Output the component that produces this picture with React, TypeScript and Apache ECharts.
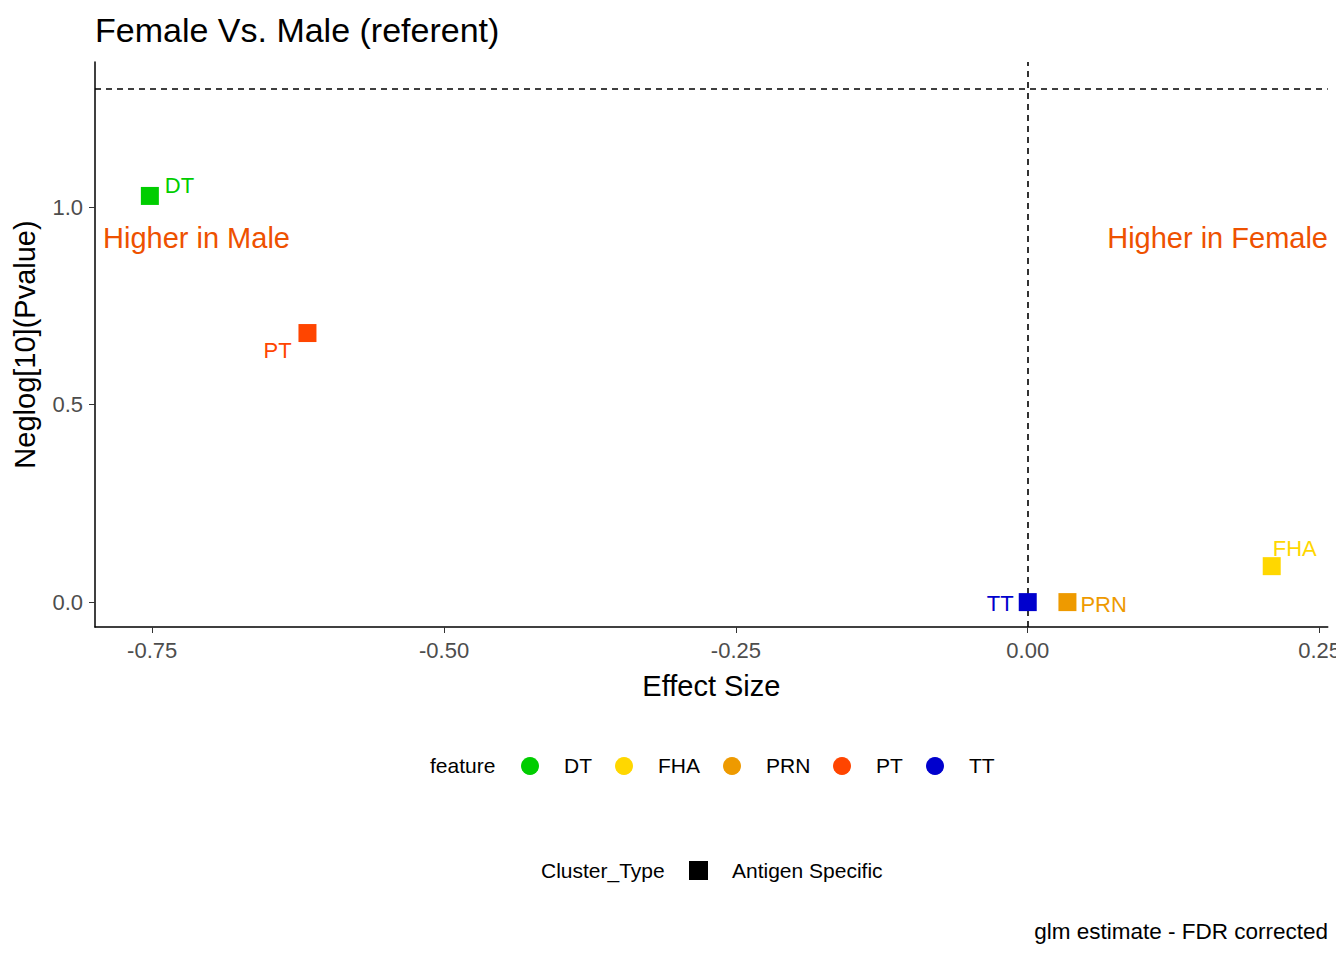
import React, { useEffect, useRef } from 'react';
import * as echarts from 'echarts';

const features = ['DT', 'FHA', 'PRN', 'PT', 'TT'];
const featureColors = ['#00CD00', '#FFD700', '#EE9A00', '#FF4500', '#0000CD'];
const effectSize = [-0.752, 0.209, 0.034, -0.617, 0.0];
const negLogP = [1.028, 0.091, 0.0, 0.681, 0.0];
const labelPos: any[] = [[24, -12], [10, -20], [22, 0], [-35, 15], [-32, -1]];
const xTicks = [-0.75, -0.5, -0.25, 0, 0.25];
const legendX = [530, 624, 732, 842, 935];

const FONT = 'Liberation Sans, Arial, sans-serif';

const App: React.FC = () => {
  const chartRef = useRef<HTMLDivElement>(null);

  useEffect(() => {
    if (!chartRef.current) return;
    const chart = echarts.init(chartRef.current, null, { renderer: 'svg' });

    const series: any[] = features.map((f, i) => ({
      name: f,
      type: 'scatter',
      symbol: 'rect',
      symbolSize: 18,
      data: [[effectSize[i], negLogP[i]]],
      itemStyle: { color: featureColors[i], opacity: 1 },
      label: {
        show: true,
        formatter: f,
        position: labelPos[i],
        color: featureColors[i],
        fontSize: 22,
        fontFamily: FONT,
      },
      z: 5,
    }));
    series.push({
      type: 'line',
      data: [],
      markLine: {
        silent: true,
        symbol: 'none',
        label: { show: false },
        lineStyle: { color: '#000', type: [6, 5], width: 1.6 },
        data: [{ yAxis: 1.301 }, { xAxis: 0 }],
      },
    });

    const graphics: any[] = [
      { type: 'text', left: 103, top: 223, style: { text: 'Higher in Male', fill: '#EE5100', font: `29px ${FONT}` } },
      { type: 'text', right: 16, top: 223, style: { text: 'Higher in Female', fill: '#EE5100', font: `29px ${FONT}` } },
      { type: 'text', left: 430, top: 755, style: { text: 'feature', fill: '#000', font: `21px ${FONT}` } },
      { type: 'text', left: 541, top: 860, style: { text: 'Cluster_Type', fill: '#000', font: `21px ${FONT}` } },
      { type: 'rect', shape: { x: 689, y: 861, width: 19, height: 19 }, style: { fill: '#000' } },
      { type: 'text', left: 732, top: 860, style: { text: 'Antigen Specific', fill: '#000', font: `21px ${FONT}` } },
      { type: 'text', right: 16, top: 920, style: { text: 'glm estimate - FDR corrected', fill: '#000', font: `22.5px ${FONT}` } },
    ];
    features.forEach((f, i) => {
      graphics.push({ type: 'circle', shape: { cx: legendX[i], cy: 766, r: 9 }, style: { fill: featureColors[i] } });
      graphics.push({ type: 'text', left: legendX[i] + 34, top: 755, style: { text: f, fill: '#000', font: `21px ${FONT}` } });
    });

    chart.setOption({
      animation: false,
      backgroundColor: '#fff',
      title: {
        text: 'Female Vs. Male (referent)',
        left: 90,
        top: 8,
        textStyle: { fontFamily: FONT, fontSize: 34, fontWeight: 'normal', color: '#000' },
      },
      grid: { left: 95, right: 16, top: 62, bottom: 333 },
      xAxis: {
        type: 'value',
        min: -0.799,
        max: 0.257,
        name: 'Effect Size',
        nameLocation: 'middle',
        nameGap: 44,
        nameTextStyle: { fontFamily: FONT, fontSize: 29, color: '#000' },
        splitLine: { show: false },
        axisLine: { onZero: false, lineStyle: { color: '#000', width: 1.5 } },
        axisTick: { show: true, length: 6, lineStyle: { color: '#333' }, customValues: xTicks },
        axisLabel: {
          customValues: xTicks,
          color: '#4d4d4d',
          fontFamily: FONT,
          fontSize: 22,
          margin: 12,
          formatter: (v: number) => v.toFixed(2),
        },
      },
      yAxis: {
        type: 'value',
        min: -0.063,
        max: 1.367,
        name: 'Neglog[10](Pvalue)',
        nameLocation: 'middle',
        nameGap: 56,
        nameTextStyle: { fontFamily: FONT, fontSize: 29, color: '#000' },
        splitLine: { show: false },
        axisLine: { show: true, onZero: false, lineStyle: { color: '#000', width: 1.5 } },
        axisTick: { show: true, length: 6, lineStyle: { color: '#333' }, customValues: [0, 0.5, 1] },
        axisLabel: {
          customValues: [0, 0.5, 1],
          color: '#4d4d4d',
          fontFamily: FONT,
          fontSize: 22,
          margin: 12,
          formatter: (v: number) => v.toFixed(1),
        },
      },
      series,
      graphic: graphics,
    });

    return () => chart.dispose();
  }, []);

  return <div ref={chartRef} style={{ width: 1344, height: 960, margin: -8 }} />;
};

export default App;
